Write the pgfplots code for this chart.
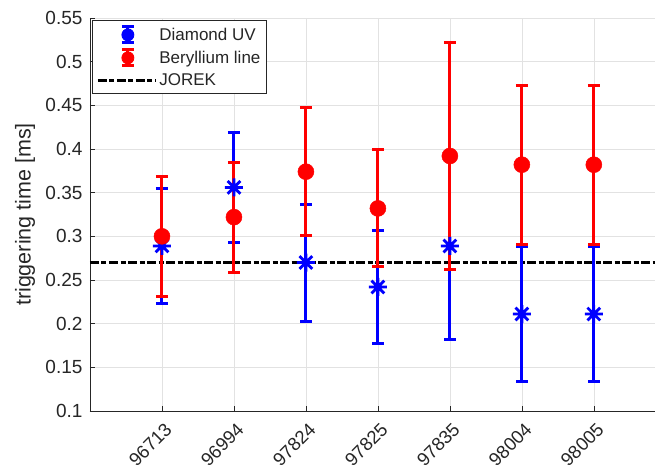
\documentclass[border=0pt]{standalone}
\usepackage{pgfplots}
\usepackage{pgfplotstable}
\pgfplotsset{compat=1.18}
\usepackage{fontspec}
\setmainfont{Liberation Sans}
\definecolor{axc}{HTML}{262626}
\definecolor{gridc}{HTML}{E2E2E2}
\pgfdeclareplotmark{mstar}{%
 \pgfpathmoveto{\pgfqpoint{-\pgfplotmarksize}{0pt}}\pgfpathlineto{\pgfqpoint{\pgfplotmarksize}{0pt}}%
 \pgfpathmoveto{\pgfqpoint{0pt}{-\pgfplotmarksize}}\pgfpathlineto{\pgfqpoint{0pt}{\pgfplotmarksize}}%
 \pgfpathmoveto{\pgfqpoint{-0.707\pgfplotmarksize}{-0.707\pgfplotmarksize}}\pgfpathlineto{\pgfqpoint{0.707\pgfplotmarksize}{0.707\pgfplotmarksize}}%
 \pgfpathmoveto{\pgfqpoint{-0.707\pgfplotmarksize}{0.707\pgfplotmarksize}}\pgfpathlineto{\pgfqpoint{0.707\pgfplotmarksize}{-0.707\pgfplotmarksize}}%
 \pgfusepathqstroke}
\pgfplotstableread{
x y e
1 0.289 0.066
2 0.356 0.063
3 0.270 0.067
4 0.242 0.065
5 0.289 0.107
6 0.211 0.077
7 0.211 0.077
}\tabUV
\pgfplotstableread{
x y e
1 0.300 0.069
2 0.322 0.063
3 0.374 0.073
4 0.332 0.067
5 0.392 0.130
6 0.382 0.091
7 0.382 0.091
}\tabBe
\begin{document}
\begin{tikzpicture}
\useasboundingbox (-90pt,-62pt) rectangle (565pt,411pt);
\begin{axis}[at={(0,0)}, anchor=south west, scale only axis, width=565pt, height=393pt,
 xmin=0, xmax=7.85, ymin=0.1, ymax=0.55,
 axis lines=left, axis line style={-, axc, line width=0.8pt},
 tick align=inside, major tick length=5pt, tick style={axc, line width=0.6pt},
 xtick={1,...,7}, xticklabels={96713,96994,97824,97825,97835,98004,98005},
 ytick={0.1,0.15,0.2,0.25,0.3,0.35,0.4,0.45,0.5,0.55},
 yticklabel style={/pgf/number format/fixed, /pgf/number format/precision=2, xshift=-4pt},
 /pgf/number format/assume math mode=true,
 tick label style={font=\fontsize{19}{19}\selectfont, text=axc},
 xticklabel style={font=\fontsize{18.5}{18.5}\selectfont, anchor=east, xshift=9pt, yshift=-13pt, rotate=45},
 grid=major, major grid style={gridc, line width=0.6pt},
 ylabel={triggering time [ms]},
 ylabel style={font=\fontsize{21.5}{21.5}\selectfont, text=axc, at={(axis description cs:-0.115,0.5)}, anchor=center, rotate=0},
 legend style={at={(rel axis cs:0.0035,0.995)}, anchor=north west, draw=axc, line width=0.8pt, fill=white,
   font=\fontsize{17}{20}\selectfont, text=axc, inner xsep=4pt, inner ysep=5pt, row sep=4pt},
 legend cell align=left,
 clip=false
]
\addlegendimage{legend image code/.code={
  \draw[blue, line width=3pt] (30pt,-8pt) -- (30pt,8pt);
  \draw[blue, line width=3pt] (24pt,-8pt) -- (36pt,-8pt);
  \draw[blue, line width=3pt] (24pt,8pt) -- (36pt,8pt);
  \fill[blue] (30pt,0pt) circle (6pt);}}
\addlegendentry{Diamond UV}
\addlegendimage{legend image code/.code={
  \draw[red, line width=3pt] (30pt,-8pt) -- (30pt,8pt);
  \draw[red, line width=3pt] (24pt,-8pt) -- (36pt,-8pt);
  \draw[red, line width=3pt] (24pt,8pt) -- (36pt,8pt);
  \fill[red] (30pt,0pt) circle (6pt);}}
\addlegendentry{Beryllium line}
\addlegendimage{legend image code/.code={
  \draw[black, line width=3pt, dash pattern=on 9pt off 2.5pt on 5pt off 2.5pt] (0pt,0pt) -- (58pt,0pt);}}
\addlegendentry{JOREK}
\addplot[black, line width=3pt, dash pattern=on 9pt off 2.5pt on 5pt off 2.5pt, forget plot] coordinates {(0,0.27) (7.85,0.27)};
\addplot[blue, only marks, mark=mstar, mark size=9pt, mark options={line width=2.8pt}, forget plot,
  error bars/.cd, y dir=both, y explicit, error bar style={line width=3pt, blue},
  error mark options={rotate=90, blue, mark size=6pt, line width=3pt}] table[x=x, y=y, y error=e] {\tabUV};
\addplot[red, only marks, mark=*, mark size=8pt, mark options={fill=red, draw=red, line width=0.5pt}, forget plot,
  error bars/.cd, y dir=both, y explicit, error bar style={line width=3pt, red},
  error mark options={rotate=90, red, mark size=6pt, line width=3pt}] table[x=x, y=y, y error=e] {\tabBe};
\end{axis}
\end{tikzpicture}
\end{document}
